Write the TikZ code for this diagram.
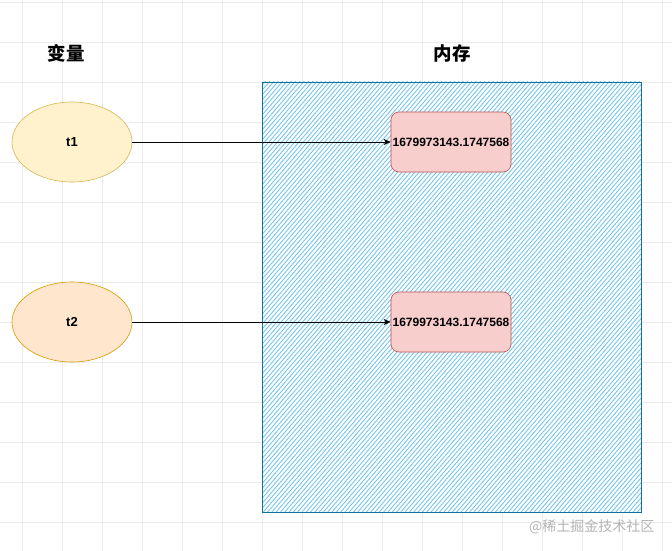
\documentclass[tikz,border=0pt]{standalone}
\usepackage{fontspec}
\setmainfont{Liberation Sans}
\newfontfamily\cjk{Noto Sans CJK SC}
\usetikzlibrary{shapes.geometric,arrows.meta}
\definecolor{gridc}{HTML}{EBEBEB}
\definecolor{yfill}{HTML}{FFF2CC}
\definecolor{ydraw}{HTML}{D6B656}
\definecolor{ofill}{HTML}{FFE6CC}
\definecolor{odraw}{HTML}{D79B00}
\definecolor{rfill}{HTML}{F8CECC}
\definecolor{rdraw}{HTML}{B85450}
\definecolor{hatch}{HTML}{1BA1E2}
\definecolor{bdraw}{HTML}{10739E}
\definecolor{wm}{HTML}{B4B4B4}
\tikzset{
  varell/.style={ellipse, minimum width=120pt, minimum height=80pt, line width=0.6pt, font=\bfseries\fontsize{13}{15}\selectfont, inner sep=0pt},
  valbox/.style={rectangle, rounded corners=8pt, minimum width=120pt, minimum height=60pt, fill=rfill, draw=rdraw, line width=0.6pt, font=\bfseries\fontsize{12}{14}\selectfont, inner sep=0pt},
  title/.style={font=\cjk\bfseries\fontsize{18.5}{21}\selectfont},
  link/.style={-{Stealth[length=7pt,width=6pt,inset=2pt]}, line width=0.6pt, black}
}
\begin{document}
\begin{tikzpicture}[x=1pt,y=-1pt]
\useasboundingbox (0,0) rectangle (672,551);
\fill[white] (0,0) rectangle (672,551);
% grid
\foreach \gx in {22,62,...,662} {\draw[gridc, line width=0.6pt] (\gx,0) -- (\gx,551);}
\foreach \gy in {2,42,...,542} {\draw[gridc, line width=0.6pt] (0,\gy) -- (672,\gy);}
% memory box with hatching
\begin{scope}
  \clip (262,82) rectangle (641,512);
  \fill[white] (262,82) rectangle (641,512);
  \foreach \c in {-110,-105.7,...,645} {
    \draw[hatch!62!white, line width=0.85pt] (\c,516) -- (\c+380,76);
  }
\end{scope}
\node[draw=bdraw, line width=0.8pt, minimum width=379pt, minimum height=430pt, inner sep=0pt] (mem) at (451.5,297) {};
% titles
\node[title] (tvar) at (66,53) {变量};
\node[title] (tmem) at (452,53) {内存};
% variables
\node[varell, fill=yfill, draw=ydraw] (t1) at (72,142) {t1};
\node[varell, fill=ofill, draw=odraw] (t2) at (72,322) {t2};
% values
\node[valbox] (v1) at (451,142) {1679973143.1747568};
\node[valbox] (v2) at (451,322) {1679973143.1747568};
% links
\draw[link] (t1.east) -- (v1.west);
\draw[link] (t2.east) -- (v2.west);
% watermark
\node[font=\cjk\fontsize{14}{16}\selectfont, text=wm, anchor=east] (wmk) at (658,527) {@稀土掘金技术社区};
\end{tikzpicture}
\end{document}
